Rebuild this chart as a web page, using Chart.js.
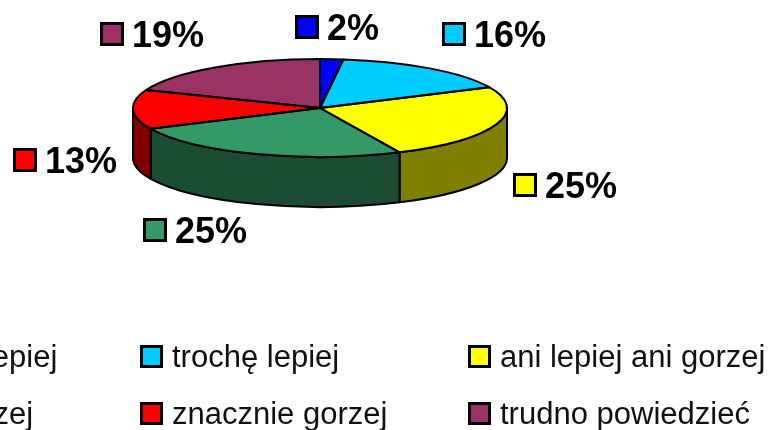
<!DOCTYPE html>
<html>
<head>
<meta charset="utf-8">
<script src="https://cdn.jsdelivr.net/npm/chart.js@4"></script>
<style>
    html, body { margin: 0; padding: 0; background: #fff; }
    #wrap { width: 777px; height: 430px; }
</style>
</head>
<body>
<div id="wrap"><canvas id="chart"></canvas></div>
<script>
// ============================================
// Data
// ============================================

const categories = [
    'znacznie lepiej',
    'trochę lepiej',
    'ani lepiej ani gorzej',
    'trochę gorzej',
    'znacznie gorzej',
    'trudno powiedzieć'
];
const shares = [2, 16, 25, 25, 13, 19];
const percentLabels = ['2%', '16%', '25%', '25%', '13%', '19%'];

const topColors = ['#0000ff', '#00ccff', '#ffff00', '#339966', '#ff0000', '#993366'];
const sideColors = ['#000080', '#006680', '#808000', '#1a4d33', '#800000', '#4d1a33'];

// ============================================
// 3D look
// ============================================

const TILT = 0.262;   // vertical squash of the top face
const DEPTH = 50;     // thickness of the pie
const TOP_Y = 108;    // where the top face centre lands

const FONT = '"Liberation Sans", Arial, sans-serif';

// labels sit on a ring round the pie, then get nudged like in the original
const LABEL_NUDGE = [[0, 8], [17, -2], [-6, -3], [-35, -12], [12, -1], [-18, 0]];

function pieGeom(chart) {
    const el = chart.getDatasetMeta(0).data[0];
    return { cx: el.x, cy: el.y, r: el.outerRadius, ry: el.outerRadius * TILT };
}

function sidePath(ctx, g, a0, a1) {
    ctx.beginPath();
    ctx.ellipse(g.cx, TOP_Y, g.r, g.ry, 0, a0, a1);
    ctx.ellipse(g.cx, TOP_Y + DEPTH, g.r, g.ry, 0, a1, a0, true);
    ctx.closePath();
}

const pie3d = {
    id: 'pie3d',
    beforeDatasetsDraw(chart) {
        const ctx = chart.ctx;
        const g = pieGeom(chart);
        const arcs = chart.getDatasetMeta(0).data;

        // front wall: only angles between 0 and PI face the viewer
        ctx.save();
        ctx.lineWidth = 2;
        ctx.strokeStyle = '#000';
        ctx.lineJoin = 'round';
        arcs.forEach((arc, i) => {
            [-2 * Math.PI, 0, 2 * Math.PI].forEach(shift => {
                const a0 = Math.max(arc.startAngle + shift, 0);
                const a1 = Math.min(arc.endAngle + shift, Math.PI);
                if (a1 - a0 <= 0.001) return;
                sidePath(ctx, g, a0, a1);
                ctx.fillStyle = sideColors[i];
                ctx.fill();
                ctx.stroke();
            });
        });
        ctx.restore();

        // squash the top face
        ctx.save();
        ctx.translate(g.cx, TOP_Y);
        ctx.scale(1, TILT);
        ctx.translate(-g.cx, -g.cy);
    },
    afterDatasetsDraw(chart) {
        const ctx = chart.ctx;
        ctx.restore();

        const g = pieGeom(chart);
        const arcs = chart.getDatasetMeta(0).data;
        ctx.save();
        ctx.lineWidth = 2;
        ctx.strokeStyle = '#000';
        ctx.lineJoin = 'round';
        arcs.forEach(arc => {
            ctx.beginPath();
            ctx.moveTo(g.cx, TOP_Y);
            ctx.ellipse(g.cx, TOP_Y, g.r, g.ry, 0, arc.startAngle, arc.endAngle);
            ctx.closePath();
            ctx.stroke();
        });
        ctx.restore();
    }
};

function colorBox(ctx, x, y, size, color) {
    ctx.fillStyle = '#000';
    ctx.fillRect(x, y, size, size);
    ctx.fillStyle = color;
    ctx.fillRect(x + 3, y + 3, size - 6, size - 6);
}

// percentage labels around the pie
const sliceLabels = {
    id: 'sliceLabels',
    afterDraw(chart) {
        const ctx = chart.ctx;
        const g = pieGeom(chart);
        const arcs = chart.getDatasetMeta(0).data;
        ctx.save();
        ctx.font = 'bold 36px ' + FONT;
        ctx.textBaseline = 'alphabetic';
        ctx.textAlign = 'left';
        arcs.forEach((arc, i) => {
            const mid = (arc.startAngle + arc.endAngle) / 2;
            const s = Math.sin(mid);
            const lx = g.cx + (g.r + 80) * Math.cos(mid) + LABEL_NUDGE[i][0];
            const ly = TOP_Y + (g.ry + 40) * s + (s > -0.2 ? DEPTH : 0) + LABEL_NUDGE[i][1];
            const text = percentLabels[i];
            const w = 24 + 8 + ctx.measureText(text).width;
            const x0 = Math.round(lx - w / 2);
            colorBox(ctx, x0, Math.round(ly - 12), 24, topColors[i]);
            ctx.fillStyle = '#000';
            ctx.fillText(text, x0 + 32, ly + 13);
        });
        ctx.restore();
    }
};

// legend in 3 columns, first column runs off the left edge
const LEGEND_COLS = [-178, 140, 468];
const LEGEND_ROWS = [356, 413];

const gridLegend = {
    id: 'gridLegend',
    afterDraw(chart) {
        const ctx = chart.ctx;
        ctx.save();
        ctx.font = '31px ' + FONT;
        ctx.textBaseline = 'alphabetic';
        ctx.textAlign = 'left';
        chart.data.labels.forEach((label, i) => {
            const x = LEGEND_COLS[i % 3];
            const y = LEGEND_ROWS[Math.floor(i / 3)];
            colorBox(ctx, x, y - 11, 23, topColors[i]);
            ctx.fillStyle = '#111';
            ctx.fillText(label, x + 32, y + 11);
        });
        ctx.restore();
    }
};

new Chart(document.getElementById('chart'), {
    type: 'pie',
    data: {
        labels: categories,
        datasets: [{
            data: shares,
            backgroundColor: topColors,
            borderWidth: 0,
            radius: 187
        }]
    },
    options: {
        responsive: true,
        maintainAspectRatio: false,
        animation: false,
        events: [],
        layout: { padding: { left: 0, right: 137, top: 0, bottom: 0 } },
        plugins: {
            legend: { display: false },
            tooltip: { enabled: false }
        }
    },
    plugins: [pie3d, sliceLabels, gridLegend]
});
</script>
</body>
</html>
